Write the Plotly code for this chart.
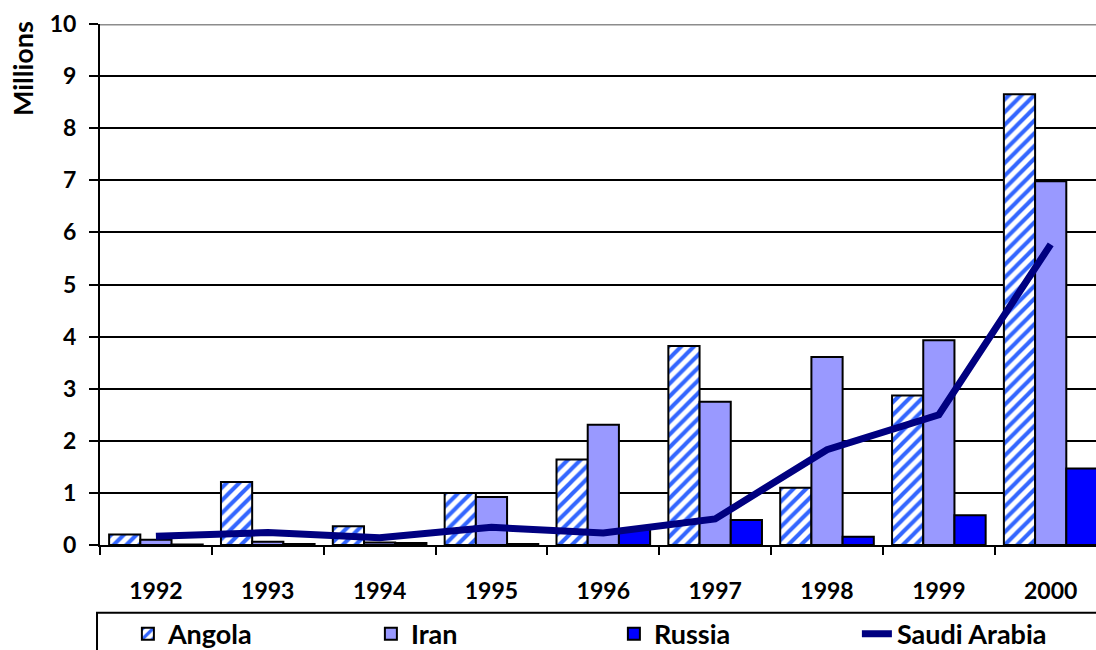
import plotly.graph_objects as go

# Annual values, in millions
years = ["1992", "1993", "1994", "1995", "1996", "1997", "1998", "1999", "2000"]
angola = [0.20, 1.21, 0.36, 1.00, 1.64, 3.82, 1.10, 2.87, 8.65]
iran = [0.10, 0.06, 0.05, 0.92, 2.31, 2.75, 3.61, 3.93, 6.98]
russia = [0.01, 0.02, 0.04, 0.02, 0.30, 0.48, 0.16, 0.57, 1.47]
saudi_arabia = [0.17, 0.24, 0.14, 0.34, 0.23, 0.50, 1.83, 2.50, 5.77]

y_ticks = list(range(0, 11))

FONT = "Lato"
outline = dict(color="black", width=2)

fig = go.Figure()

fig.add_trace(go.Bar(
    x=years, y=angola, name="Angola",
    marker=dict(
        color="white",
        line=outline,
        pattern=dict(shape="/", fgcolor="#3366FF", bgcolor="white",
                     fgopacity=1, size=9, solidity=0.45, fillmode="replace"),
    ),
))
fig.add_trace(go.Bar(
    x=years, y=iran, name="Iran",
    marker=dict(color="#9999FF", line=outline),
))
fig.add_trace(go.Bar(
    x=years, y=russia, name="Russia",
    marker=dict(color="#0000FF", line=outline),
))
fig.add_trace(go.Scatter(
    x=years, y=saudi_arabia, name="Saudi Arabia",
    mode="lines",
    line=dict(color="#000080", width=7),
))

fig.update_layout(
    width=1096, height=650,
    margin=dict(l=100, r=0, t=24, b=105, autoexpand=False),
    paper_bgcolor="white", plot_bgcolor="white",
    barmode="group", bargap=0.163, bargroupgap=0,
    font=dict(family=FONT, color="black"),
    showlegend=True,
    legend=dict(
        orientation="h",
        x=0.028, xanchor="left",
        y=-0.171, yanchor="middle",
        entrywidth=198, entrywidthmode="pixels",
        font=dict(family=FONT, size=27, weight="bold", color="black"),
        bgcolor="rgba(0,0,0,0)",
        traceorder="normal",
    ),
    xaxis=dict(
        type="category",
        range=[-0.5, 8.405],
        showline=True, linecolor="black", linewidth=2,
        ticks="outside", tickson="boundaries", ticklen=8,
        tickwidth=2, tickcolor="black",
        ticklabelstandoff=24,
        tickfont=dict(family=FONT, size=23, weight="bold", color="black"),
        showgrid=False,
    ),
    yaxis=dict(
        range=[0, 10],
        tickvals=y_ticks,
        showline=True, linecolor="black", linewidth=2,
        ticks="outside", ticklen=9, tickwidth=2, tickcolor="black",
        ticklabelstandoff=8,
        tickfont=dict(family=FONT, size=23, weight="bold", color="black"),
        showgrid=True, gridcolor="black", gridwidth=2,
        zeroline=False,
    ),
    annotations=[
        dict(
            text="Millions", textangle=-90,
            xref="paper", yref="paper",
            x=-0.078, y=0.914, xanchor="center", yanchor="middle",
            showarrow=False,
            font=dict(family=FONT, size=27, weight="bold", color="black"),
        ),
    ],
    shapes=[
        # grey top edge of the plotting area
        dict(type="line", xref="paper", yref="y", x0=0, x1=1, y0=10, y1=10,
             line=dict(color="#8C8C8C", width=3), layer="above"),
        # frame around the legend
        dict(type="rect", xref="paper", yref="paper",
             x0=-0.003, x1=1.05, y0=-0.13, y1=-0.3,
             line=dict(color="black", width=2), layer="above"),
    ],
)

fig.write_html("out.html")
